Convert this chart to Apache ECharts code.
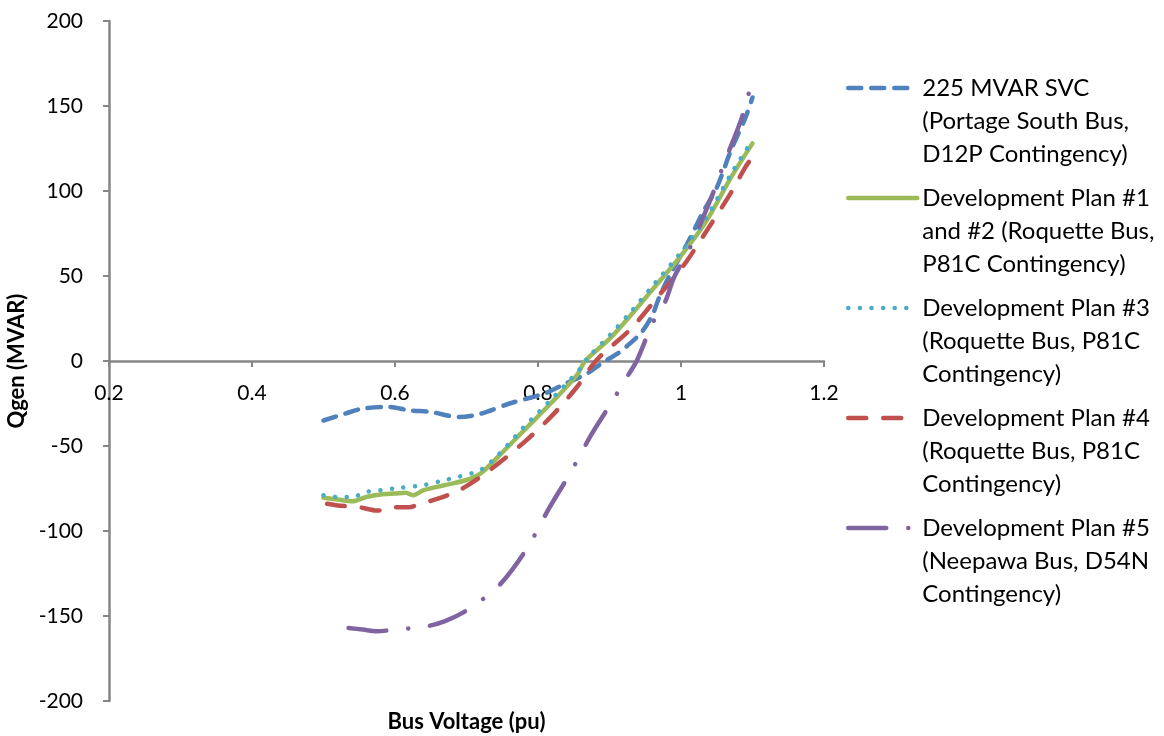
<!DOCTYPE html>
<html>
<head>
<meta charset="utf-8">
<script src="https://cdn.jsdelivr.net/npm/echarts@6/dist/echarts.min.js"></script>
<style>html,body{margin:0;padding:0;background:#fff;}#c{width:1164px;height:736px;}</style>
</head>
<body>
<div id="c"></div>
<script>
// ---- data ----
var seriesNames = [
  '225 MVAR SVC\n(Portage South Bus,\nD12P Contingency)',
  'Development Plan #1\nand #2 (Roquette Bus,\nP81C Contingency)',
  'Development Plan #3\n(Roquette Bus, P81C\nContingency)',
  'Development Plan #4\n(Roquette Bus, P81C\nContingency)',
  'Development Plan #5\n(Neepawa Bus, D54N\nContingency)'
];
var xTicks = ['0.2', '0.4', '0.6', '0.8', '1', '1.2'];

var svcX = [0.50, 0.53, 0.555, 0.59, 0.62, 0.65, 0.69, 0.72, 0.76, 0.81, 0.835, 0.87, 0.89, 0.91, 0.925, 0.945, 0.96, 0.97, 0.985, 1.01, 1.03, 1.05, 1.07, 1.09, 1.10];
var svcY = [-35, -31, -28, -27, -29, -30, -33, -31, -25, -19, -14, -7, -1, 4, 9, 17, 27, 38, 51, 70, 87, 102, 124, 143, 155];

var dp12X = [0.50, 0.52, 0.54, 0.56, 0.58, 0.60, 0.615, 0.625, 0.64, 0.67, 0.70, 0.72, 0.745, 0.78, 0.82, 0.855, 0.866, 0.90, 0.93, 0.96, 1.00, 1.035, 1.07, 1.10];
var dp12Y = [-80.5, -81.5, -82.5, -80, -78.5, -78, -77.5, -79, -76, -73, -70, -66, -56, -41, -24, -8, 0, 13, 27, 42, 62, 82, 108, 128];

var dp3X = [0.50, 0.52, 0.54, 0.56, 0.58, 0.60, 0.64, 0.67, 0.69, 0.72, 0.745, 0.78, 0.82, 0.86, 0.87, 0.90, 0.93, 0.96, 1.00, 1.035, 1.07, 1.10];
var dp3Y = [-79, -80, -80, -77, -76, -75, -73, -70, -68, -64, -55, -39, -22, -4, 2, 15, 29, 44, 64, 84, 110, 130];

var dp4X = [0.505, 0.52, 0.55, 0.575, 0.60, 0.62, 0.635, 0.66, 0.69, 0.73, 0.78, 0.82, 0.855, 0.875, 0.89, 0.93, 0.97, 1.005, 1.035, 1.07, 1.09, 1.10];
var dp4Y = [-84, -85, -86, -88, -86, -86, -84, -81, -76, -65, -48, -32, -15, -3, 4, 19, 39, 57, 76, 99, 114, 120];

var dp5X = [0.535, 0.555, 0.575, 0.60, 0.645, 0.67, 0.695, 0.72, 0.75, 0.785, 0.815, 0.845, 0.875, 0.905, 0.922, 0.938, 0.96, 0.978, 0.99, 1.013, 1.045, 1.06, 1.085, 1.10];
var dp5Y = [-157, -158, -159, -158, -156, -153, -148, -141, -130, -110, -87, -66, -43, -23, -11, 0, 22, 35, 49, 67, 99, 116, 143, 166];

var colors = ['#4F81BD', '#9BBB59', '#4BACC6', '#C0504D', '#8064A2'];

function pairs(xs, ys) { return xs.map(function (x, i) { return [x, ys[i]]; }); }

var FONT = 'Lato';
var chart = echarts.init(document.getElementById('c'), null, { renderer: 'canvas' });

function mkSeries(idx, xs, ys, lineType, width) {
  return {
    name: seriesNames[idx],
    type: 'line',
    data: pairs(xs, ys),
    symbol: 'none',
    smooth: 0.3,
    xAxisIndex: 0,
    yAxisIndex: 0,
    lineStyle: { color: colors[idx], width: width, type: lineType, cap: 'round', join: 'round' },
    itemStyle: { color: colors[idx] },
    emphasis: { disabled: true },
    animation: false
  };
}

var option = {
  backgroundColor: '#ffffff',
  animation: false,
  grid: { left: 109, right: 340, top: 21, bottom: 35, containLabel: false, outerBoundsMode: 'none' },
  legend: {
    orient: 'vertical',
    left: 846,
    top: 5.5,
    padding: 0,
    itemGap: -55,
    itemWidth: 69,
    itemHeight: 14,
    data: seriesNames,
    selectedMode: false,
    formatter: function (name) { return ' \n \n' + name; },
    lineStyle: { width: 4.5 },
    itemStyle: { color: 'rgba(0,0,0,0)', borderColor: 'rgba(0,0,0,0)', borderWidth: 0 },
    textStyle: {
      fontFamily: FONT,
      fontSize: 24,
      color: '#000',
      lineHeight: 33
    }
  },
  xAxis: [{
    type: 'value',
    min: 0.2,
    max: 1.2,
    interval: 0.2,
    position: 'bottom',
    offset: -340,
    axisLine: { show: true, onZero: false, lineStyle: { color: '#868686', width: 2.5 } },
    axisTick: { show: true, inside: false, length: 6, lineStyle: { color: '#868686', width: 2 } },
    axisLabel: {
      margin: 22,
      fontFamily: FONT,
      fontSize: 21,
      color: '#000',
      formatter: function (v) {
        var i = Math.round((v - 0.2) / 0.2);
        return xTicks[i] !== undefined ? xTicks[i] : '';
      }
    },
    splitLine: { show: false }
  }, {
    type: 'value',
    min: 0.2,
    max: 1.2,
    position: 'bottom',
    offset: 0,
    axisLine: { show: false, onZero: false },
    axisTick: { show: false },
    axisLabel: { show: false },
    splitLine: { show: false },
    name: 'Bus Voltage (pu)',
    nameLocation: 'middle',
    nameGap: 10,
    nameTextStyle: { fontFamily: FONT, fontSize: 22, fontWeight: 'bold', color: '#000' }
  }],
  yAxis: {
    type: 'value',
    min: -200,
    max: 200,
    interval: 50,
    axisLine: { show: true, onZero: false, lineStyle: { color: '#868686', width: 2.5 } },
    axisTick: { show: true, inside: false, length: 6, lineStyle: { color: '#868686', width: 2 } },
    axisLabel: { margin: 26, fontFamily: FONT, fontSize: 21, color: '#000' },
    splitLine: { show: false },
    name: 'Qgen (MVAR)',
    nameLocation: 'middle',
    nameRotate: 90,
    nameGap: 72,
    nameTextStyle: { fontFamily: FONT, fontSize: 22, fontWeight: 'bold', color: '#000' }
  },
  series: [
    mkSeries(0, svcX, svcY, [13, 10], 4.5),
    mkSeries(1, dp12X, dp12Y, 'solid', 4.5),
    mkSeries(2, dp3X, dp3Y, [0.1, 11.5], 4.5),
    mkSeries(3, dp4X, dp4Y, [18, 17], 4.5),
    mkSeries(4, dp5X, dp5Y, [38, 22, 0.1, 22], 4.5)
  ]
};
chart.setOption(option);
</script>
</body>
</html>
